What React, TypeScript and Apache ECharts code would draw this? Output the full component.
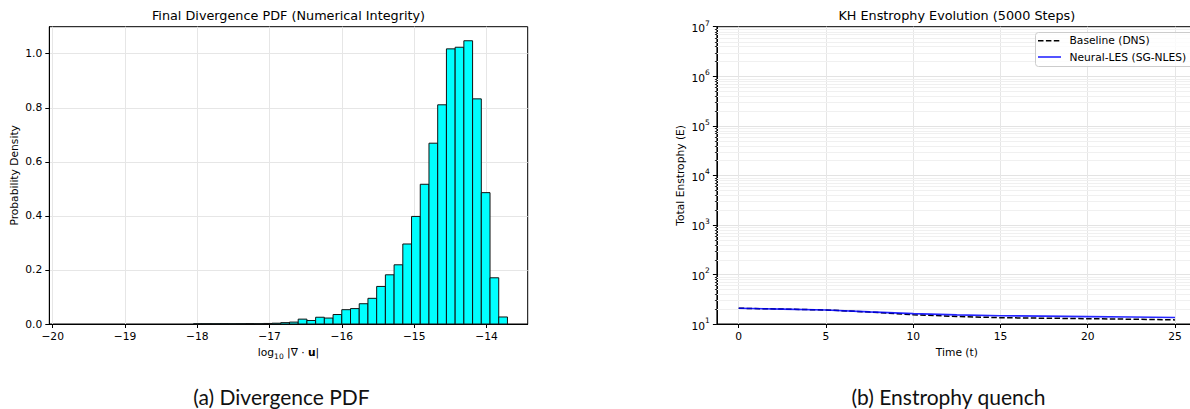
import React, { useEffect, useRef } from 'react';
import * as echarts from 'echarts';

// ---------- Data: left panel (histogram of log10 |div u|) ----------
const histStart = -19.74;
const binWidth = 0.1206;
const histDensity = [
  0, 0, 0, 0, 0, 0, 0, 0, 0, 0, 0, 0, 0, 0,
  0.0008, 0.0008, 0.0008, 0.001, 0.0008, 0.001, 0.0015, 0.001, 0.002, 0.003,
  0.005, 0.007, 0.018, 0.013, 0.025, 0.022, 0.035, 0.053, 0.057, 0.075,
  0.095, 0.139, 0.182, 0.219, 0.296, 0.398, 0.517, 0.669, 0.811, 1.018,
  1.024, 1.048, 0.833, 0.486, 0.171, 0.026,
];
const xTicksA = [-20, -19, -18, -17, -16, -15, -14];
const yTicksA = [0, 0.2, 0.4, 0.6, 0.8, 1.0];

// ---------- Data: right panel (enstrophy evolution) ----------
const timeT = [0, 2.5, 5, 7.5, 10, 12.5, 15, 17.5, 20, 22.5, 25];
const baselineDNS = [20.8, 20.0, 19.2, 17.4, 15.4, 14.2, 13.4, 13.1, 12.8, 12.5, 12.1];
const neuralLES = [20.8, 20.0, 19.2, 17.6, 16.2, 15.3, 14.7, 14.4, 14.1, 13.8, 13.5];
const xTicksB = [0, 5, 10, 15, 20, 25];
const decadeExps = [1, 2, 3, 4, 5, 6];
const minorMultipliers = [2, 3, 4, 5, 6, 7, 8, 9];
const legendNames = ['Baseline (DNS)', 'Neural-LES (SG-NLES)'];

const FONT = '"DejaVu Sans", sans-serif';
const FS = 10.7;
const TFS = 12.8;
const fmtMinus = (v: number) => (v < 0 ? '\u2212' + Math.abs(v) : String(v));
const BLUE = 'rgba(0,0,255,0.85)';

export default function App() {
  const ref = useRef<HTMLDivElement>(null);

  useEffect(() => {
    if (!ref.current) return;
    const chart = echarts.init(ref.current, undefined, { renderer: 'svg' });

    const histData = histDensity.map((h, i) => [
      histStart + i * binWidth,
      histStart + (i + 1) * binWidth,
      h,
    ]);
    const minorVals: number[][] = [];
    decadeExps.forEach((e) =>
      minorMultipliers.forEach((m) => minorVals.push([0, m * Math.pow(10, e)]))
    );

    const txt = { color: '#000', fontSize: FS, fontFamily: FONT };

    const option: any = {
      animation: false,
      textStyle: { fontFamily: FONT },
      grid: [
        {
          left: 49.3, top: 26.7, width: 478.4, height: 297.3,
          show: true, borderColor: '#000', borderWidth: 1,
          backgroundColor: 'transparent', outerBoundsMode: 'none', containLabel: false,
        },
        {
          left: 716.9, top: 26.7, width: 479.9, height: 297.3,
          show: true, borderColor: '#000', borderWidth: 1,
          backgroundColor: 'transparent', outerBoundsMode: 'none', containLabel: false,
        },
      ],
      xAxis: [
        {
          gridIndex: 0, type: 'value', min: -20.047, max: -13.43,
          axisLine: { show: true, onZero: false, lineStyle: { color: '#000', width: 1 } },
          axisTick: { show: true, length: 4, lineStyle: { color: '#000' }, customValues: xTicksA },
          axisLabel: { customValues: xTicksA, formatter: fmtMinus, margin: 7, ...txt },
          splitLine: { show: true, lineStyle: { color: '#e6e6e6', width: 1 } },
          name: '{n|log}{s|10}{n| |\u2207 \u00b7 }{b|u}{n||}',
          nameLocation: 'middle', nameGap: 21,
          nameTextStyle: {
            rich: {
              n: { ...txt, lineHeight: 15, verticalAlign: 'middle' },
              s: { ...txt, fontSize: 7.5, lineHeight: 8, verticalAlign: 'bottom' },
              b: { ...txt, fontWeight: 'bold', lineHeight: 15, verticalAlign: 'middle' },
            },
          },
        },
        {
          gridIndex: 1, type: 'value', min: -1.25, max: 26.25,
          axisLine: { show: true, onZero: false, lineStyle: { color: '#000', width: 1 } },
          axisTick: { show: true, length: 4, lineStyle: { color: '#000' }, customValues: xTicksB },
          axisLabel: { customValues: xTicksB, margin: 7, ...txt },
          splitLine: { show: true, lineStyle: { color: '#e6e6e6', width: 1 } },
          name: 'Time (t)', nameLocation: 'middle', nameGap: 21,
          nameTextStyle: { ...txt },
        },
      ],
      yAxis: [
        {
          gridIndex: 0, type: 'value', min: 0, max: 1.1,
          axisLine: { show: true, onZero: false, lineStyle: { color: '#000', width: 1 } },
          axisTick: { show: true, length: 4, lineStyle: { color: '#000' }, customValues: yTicksA },
          axisLabel: { customValues: yTicksA, formatter: (v: number) => v.toFixed(1), margin: 7, ...txt },
          splitLine: { show: true, lineStyle: { color: '#e6e6e6', width: 1 } },
          name: 'Probability Density', nameLocation: 'middle', nameGap: 29,
          nameTextStyle: { ...txt },
        },
        {
          gridIndex: 1, type: 'log', logBase: 10, min: 10, max: 1e7, splitNumber: 6,
          axisLine: { show: true, onZero: false, lineStyle: { color: '#000', width: 1 } },
          axisTick: { show: true, length: 4, lineStyle: { color: '#000' } },
          axisLabel: {
            formatter: (v: number) => `{b|10}{s|${Math.round(Math.log10(v))}}`,
            margin: 7,
            rich: {
              b: { ...txt, lineHeight: 15, verticalAlign: 'bottom' },
              s: { ...txt, fontSize: 7.5, lineHeight: 8, verticalAlign: 'top' },
            },
          },
          splitLine: { show: true, showMaxLine: false, lineStyle: { color: '#e3e3e3', width: 1 } },
          name: 'Total Enstrophy (E)', nameLocation: 'middle', nameGap: 31,
          nameTextStyle: { ...txt },
        },
      ],
      graphic: [
        {
          type: 'text', x: 288.5, y: 15, silent: true,
          style: { text: 'Final Divergence PDF (Numerical Integrity)', fontSize: TFS, fontFamily: FONT, fill: '#000', align: 'center', verticalAlign: 'middle' },
        },
        {
          type: 'text', x: 956.8, y: 15, silent: true,
          style: { text: 'KH Enstrophy Evolution (5000 Steps)', fontSize: TFS, fontFamily: FONT, fill: '#000', align: 'center', verticalAlign: 'middle' },
        },
        {
          type: 'text', x: 281.5, y: 396, silent: true,
          style: { text: '(a) Divergence PDF', fontSize: 21, fontFamily: 'Lato, sans-serif', fill: '#111', align: 'center', verticalAlign: 'middle' },
        },
        {
          type: 'text', x: 948.5, y: 396, silent: true,
          style: { text: '(b) Enstrophy quench', fontSize: 21, fontFamily: 'Lato, sans-serif', fill: '#111', align: 'center', verticalAlign: 'middle' },
        },
        // legend box (matplotlib-style, upper right)
        {
          type: 'rect', silent: true, z: 10,
          shape: { x: 1035.5, y: 32.5, width: 175, height: 34, r: 3 },
          style: { fill: 'rgba(255,255,255,0.8)', stroke: '#cccccc', lineWidth: 1 },
        },
        {
          type: 'line', silent: true, z: 11,
          shape: { x1: 1038, y1: 40.7, x2: 1061, y2: 40.7 },
          style: { stroke: '#000', lineWidth: 1.5, lineDash: [5.5, 2.4] },
        },
        {
          type: 'line', silent: true, z: 11,
          shape: { x1: 1038, y1: 57, x2: 1061, y2: 57 },
          style: { stroke: BLUE, lineWidth: 1.6 },
        },
        {
          type: 'text', x: 1069.5, y: 40.7, silent: true, z: 11,
          style: { text: legendNames[0], fontSize: FS, fontFamily: FONT, fill: '#000', align: 'left', verticalAlign: 'middle' },
        },
        {
          type: 'text', x: 1069.5, y: 57, silent: true, z: 11,
          style: { text: legendNames[1], fontSize: FS, fontFamily: FONT, fill: '#000', align: 'left', verticalAlign: 'middle' },
        },
      ],
      series: [
        {
          type: 'custom', name: 'hist', xAxisIndex: 0, yAxisIndex: 0,
          data: histData, encode: { x: [0, 1], y: 2 }, z: 2, silent: true,
          renderItem: (params: any, api: any) => {
            const h = api.value(2);
            if (!(h > 0)) return null;
            const p0 = api.coord([api.value(0), h]);
            const p1 = api.coord([api.value(1), 0]);
            return {
              type: 'rect',
              shape: { x: p0[0], y: p0[1], width: p1[0] - p0[0], height: p1[1] - p0[1] },
              style: { fill: '#00ffff', stroke: '#111', lineWidth: 1 },
            };
          },
        },
        {
          type: 'custom', name: 'minor', xAxisIndex: 1, yAxisIndex: 1,
          data: minorVals, encode: { x: 0, y: 1 }, z: 1, silent: true,
          renderItem: (params: any, api: any) => {
            const cs = params.coordSys;
            const y = Math.round(api.coord([0, api.value(1)])[1]) + 0.5;
            return {
              type: 'group',
              children: [
                { type: 'line', shape: { x1: cs.x, y1: y, x2: cs.x + cs.width, y2: y }, style: { stroke: '#f0f0f0', lineWidth: 1 } },
                { type: 'line', shape: { x1: cs.x - 2, y1: y, x2: cs.x, y2: y }, style: { stroke: '#000', lineWidth: 0.8 } },
              ],
            };
          },
        },
        {
          type: 'line', name: legendNames[0], xAxisIndex: 1, yAxisIndex: 1,
          data: timeT.map((t, i) => [t, baselineDNS[i]]),
          symbol: 'none', showSymbol: false, z: 3,
          lineStyle: { color: '#000', width: 1.5, type: [5.5, 2.4] },
          itemStyle: { color: '#000' },
        },
        {
          type: 'line', name: legendNames[1], xAxisIndex: 1, yAxisIndex: 1,
          data: timeT.map((t, i) => [t, neuralLES[i]]),
          symbol: 'none', showSymbol: false, z: 4,
          lineStyle: { color: BLUE, width: 1.6 },
          itemStyle: { color: BLUE },
        },
      ],
    };

    chart.setOption(option);
    return () => chart.dispose();
  }, []);

  return (
    <div
      ref={ref}
      style={{ position: 'absolute', left: 0, top: 0, width: 1190, height: 409, background: '#fff' }}
    />
  );
}
